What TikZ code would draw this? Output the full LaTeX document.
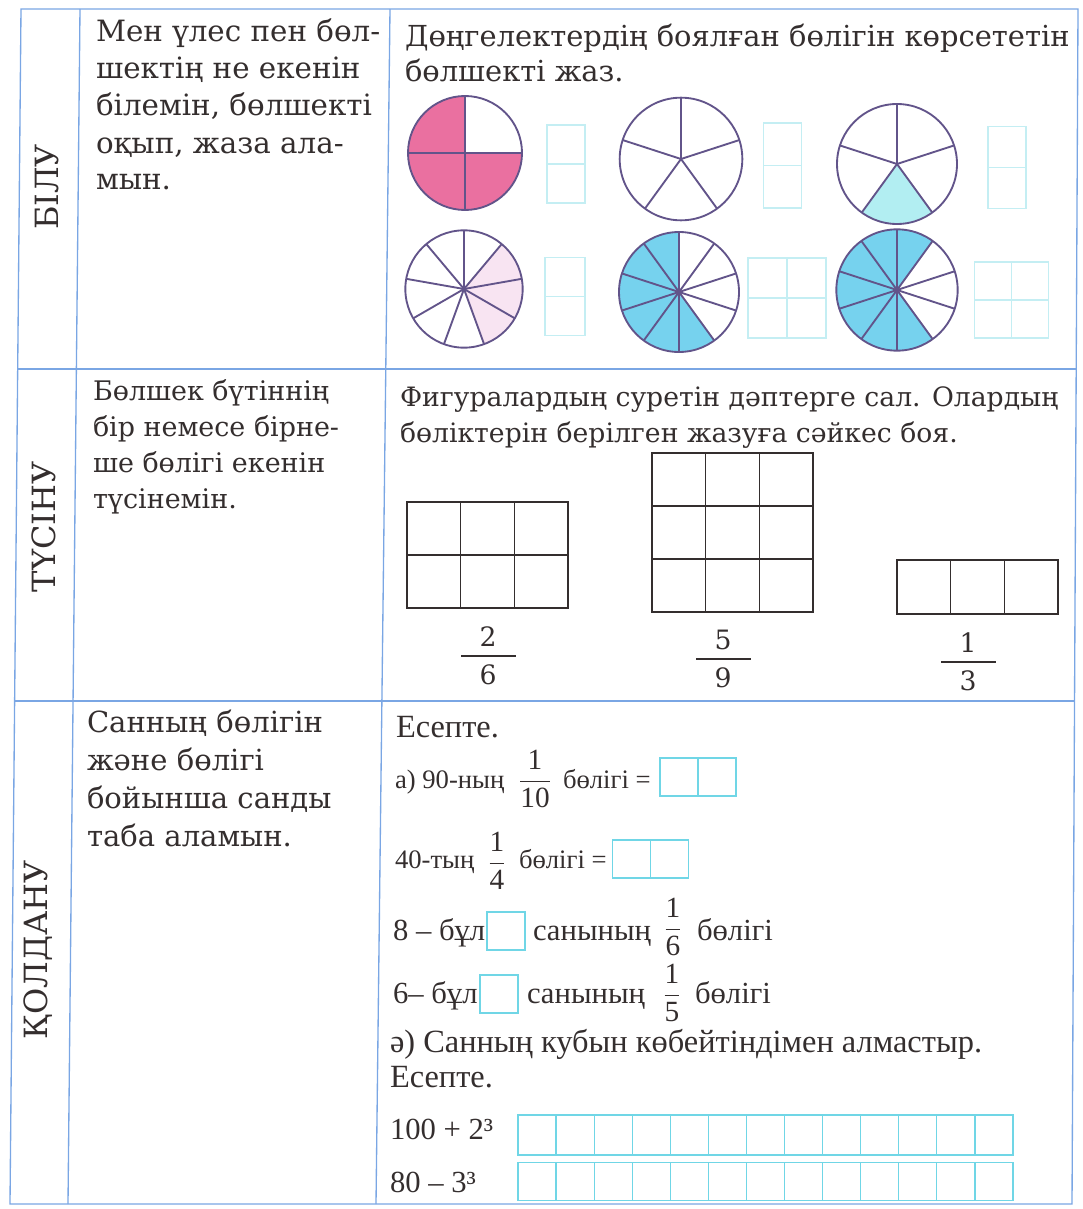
\documentclass[tikz,border=0pt]{standalone}
\usepackage{fontspec}
\setmainfont{DejaVu Serif}
\newfontfamily\tms{Liberation Serif}
\usetikzlibrary{positioning}
\definecolor{tabline}{RGB}{122,166,228}
\definecolor{wheel}{RGB}{98,84,138}
\definecolor{rose}{RGB}{234,112,160}
\definecolor{palerose}{RGB}{248,228,242}
\definecolor{aqua}{RGB}{178,238,242}
\definecolor{sky}{RGB}{118,210,238}
\definecolor{paleaqua}{RGB}{196,238,243}
\definecolor{cellaqua}{RGB}{112,214,230}
\definecolor{ink}{RGB}{52,46,46}
\newcommand\fr[2]{$\displaystyle\frac{\mbox{#1}}{\mbox{#2}}$}

\begin{document}
\begin{tikzpicture}[x=0.75pt,y=-0.75pt,inner sep=0pt,outer sep=0pt,
  tab/.style={draw=tabline,line width=1pt},
  side/.style={rotate=90,text=ink,font=\fontsize{24}{28}\selectfont},
  goal/.style={anchor=base west,align=left,text=ink},
  calc/.style={anchor=base west,text=ink,font=\tms\fontsize{23}{28}\selectfont},
  calcbig/.style={anchor=base west,text=ink,font=\tms\fontsize{24.3}{28}\selectfont},
  calcsmall/.style={anchor=base west,text=ink,font=\tms\fontsize{20}{24}\selectfont},
  frac/.style={text=ink,font=\tms\fontsize{22}{26}\selectfont},
  bignum/.style={text=ink,font=\fontsize{20}{24}\selectfont},
  spoke/.style={draw=wheel,line width=1.4pt},
  ansbox/.style={draw=paleaqua,line width=0.9pt,minimum width=28.5pt,minimum height=58.5pt},
  cellbox/.style={draw=cellaqua,line width=0.9pt,minimum width=28.5pt,minimum height=28.5pt},
  figline/.style={draw=ink,line width=1.2pt}]
\useasboundingbox (0,0) rectangle (1082,1209);

% table
\draw[tab] (21,9) -- (1078,9) -- (1072,1204) -- (10,1204) -- cycle;
\draw[tab] (80,9) -- (68,1204);
\draw[tab] (390,9) -- (376,1204);
\draw[tab] (18,369) -- (1076,369);
\draw[tab] (15,701) -- (1074,701);

\node[side] (bilu) at (47,187) {БІЛУ};
\node[side] (tusinu) at (44,527) {ТҮСІНУ};
\node[side] (qoldanu) at (38,950) {ҚОЛДАНУ};

\node[goal,font=\fontsize{22}{27.75}\selectfont] (bilugoal) at (96,190) {Мен үлес пен бөл-\\шектің не екенін\\білемін, бөлшекті\\оқып, жаза ала-\\мын.};
\node[goal,font=\fontsize{20.2}{27}\selectfont] (tusinugoal) at (93,508) {Бөлшек бүтіннің\\бір немесе бірне-\\ше бөлігі екенін\\түсінемін.};
\node[goal,font=\fontsize{21.8}{28.5}\selectfont] (qoldanugoal) at (87,846) {Санның бөлігін\\және бөлігі\\бойынша санды\\таба аламын.};

% wheels
\node[goal,font=\fontsize{21.7}{26.25}\selectfont] (task1) at (405,82) {Дөңгелектердің боялған бөлігін көрсететін\\бөлшекті жаз.};

\coordinate (w1) at (465,153);
\fill[rose] (w1) -- ++(90:42.75pt) arc[start angle=90,end angle=360,radius=42.75pt] -- cycle;
\foreach \a in {0,90,180,270} \draw[spoke] (w1) -- ++(\a:42.75pt);
\draw[spoke] (w1) circle[radius=42.75pt];

\coordinate (w2) at (681,159);
\foreach \a in {18,90,162,234,306} \draw[spoke] (w2) -- ++(\a:46pt);
\draw[spoke] (w2) circle[radius=46pt];

\coordinate (w3) at (897,164);
\fill[aqua] (w3) -- ++(234:45pt) arc[start angle=234,end angle=306,radius=45pt] -- cycle;
\foreach \a in {18,90,162,234,306} \draw[spoke] (w3) -- ++(\a:45pt);
\draw[spoke] (w3) circle[radius=45pt];

\coordinate (w4) at (464,289);
\fill[palerose] (w4) -- ++(-70:44pt) arc[start angle=-70,end angle=50,radius=44pt] -- cycle;
\foreach \a in {10,50,...,330} \draw[spoke] (w4) -- ++(\a:44pt);
\draw[spoke] (w4) circle[radius=44pt];

\coordinate (w5) at (679,292);
\fill[sky] (w5) -- ++(90:45pt) arc[start angle=90,end angle=306,radius=45pt] -- cycle;
\foreach \a in {18,54,...,342} \draw[spoke] (w5) -- ++(\a:45pt);
\draw[spoke] (w5) circle[radius=45pt];

\coordinate (w6) at (897,290);
\fill[sky] (w6) -- ++(54:45.5pt) arc[start angle=54,end angle=306,radius=45.5pt] -- cycle;
\foreach \a in {18,54,...,342} \draw[spoke] (w6) -- ++(\a:45.5pt);
\draw[spoke] (w6) circle[radius=45.5pt];

\node[ansbox] (box1) at (566,164) {};
\node[ansbox,minimum height=63.75pt] (box2) at (782.5,165.5) {};
\node[ansbox,minimum height=61pt] (box3) at (1007,167.5) {};
\node[ansbox,minimum width=30pt,minimum height=58pt] (box4) at (565,296.5) {};
\node[ansbox,minimum width=58.5pt,minimum height=60pt] (box5) at (787,298) {};
\node[ansbox,minimum width=56pt,minimum height=57pt] (box6) at (1011.5,300) {};
\foreach \b in {box1,box2,box3,box4,box5,box6} \draw[paleaqua,line width=0.9pt] (\b.west) -- (\b.east);
\draw[paleaqua,line width=0.9pt] (box5.north) -- (box5.south);
\draw[paleaqua,line width=0.9pt] (box6.north) -- (box6.south);

% figures
\node[goal,font=\fontsize{20}{27}\selectfont] (task2) at (400,442) {Фигуралардың суретін дәптерге сал. Олардың\\бөліктерін берілген жазуға сәйкес боя.};

\draw[figline,shift={(407,502)},x=40.25pt,y=39.75pt,xstep=40.25pt,ystep=39.75pt] (0,0) grid (3,-2) (0,0) rectangle (3,-2);
\draw[figline,shift={(652,453)},x=40.25pt,y=39.75pt,xstep=40.25pt,ystep=39.75pt] (0,0) grid (3,-3) (0,0) rectangle (3,-3);
\draw[figline,shift={(897,560)},x=40.25pt,y=40.5pt,xstep=40.25pt,ystep=40.5pt] (0,0) grid (3,-1) (0,0) rectangle (3,-1);

\node[bignum] (num1) at (488,637) {2};
\node[bignum] (den1) at (488,675) {6};
\draw[figline,line width=0.8pt] (461,656) -- (516,656);
\node[bignum] (num2) at (723,640) {5};
\node[bignum] (den2) at (723,678) {9};
\draw[figline,line width=0.8pt] (696,659) -- (751,659);
\node[bignum] (num3) at (968,643) {1};
\node[bignum] (den3) at (968,681) {3};
\draw[figline,line width=0.8pt] (941,662) -- (996,662);

% sums
\node[calcbig] (esepte1) at (396,737) {Есепте.};
\node[calcsmall] (a90) at (395,788) {а) 90-ның};
\node[frac] (f110) at (535,779) {\fr{1}{10}};
\node[calcsmall] (a90b) at (563,788) {бөлігі =};
\node[cellbox] (c1) at (679,777) {};
\node[cellbox,right=0pt of c1] (c2) {};

\node[calcsmall] (b40) at (395,868) {40-тың};
\node[frac] (f14) at (497,861) {\fr{1}{4}};
\node[calcsmall] (b40b) at (519,868) {бөлігі =};
\node[cellbox] (c3) at (631.5,859) {};
\node[cellbox,right=0pt of c3] (c4) {};

\node[calc] (e8) at (393,940) {8 – бұл};
\node[cellbox] (c5) at (506,931) {};
\node[calc] (e8b) at (533,940) {санының};
\node[frac] (f16) at (673,927) {\fr{1}{6}};
\node[calc] (e8c) at (697,940) {бөлігі};

\node[calc] (e6) at (393,1003) {6– бұл};
\node[cellbox] (c6) at (499,994) {};
\node[calc] (e6b) at (527,1003) {санының};
\node[frac] (f15) at (672,993) {\fr{1}{5}};
\node[calc] (e6c) at (695,1003) {бөлігі};

\node[calcbig] (cube) at (390,1052) {ә) Санның кубын көбейтіндімен алмастыр.};
\node[calcbig] (esepte2) at (390,1087) {Есепте.};
\node[calc] (ex1) at (390,1139) {100 + 2³};
\node[calc] (ex2) at (390,1192) {80 – 3³};
\foreach \i in {0,...,12} \node[cellbox,minimum width=28.56pt,minimum height=30pt] (s\i) at (537+38.08*\i,1135) {};
\foreach \i in {0,...,12} \node[cellbox,minimum width=28.56pt,minimum height=29pt] (t\i) at (537+38.08*\i,1181.5) {};
\end{tikzpicture}
\end{document}
